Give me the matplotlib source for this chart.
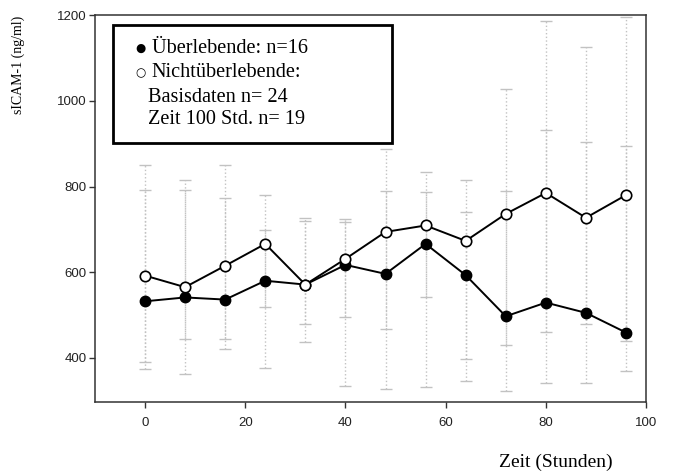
import matplotlib
matplotlib.use('Agg')
import matplotlib.pyplot as plt
from matplotlib.patches import Rectangle
import numpy as np

# Zeitpunkte (Stunden)
zeit = [0, 8, 16, 24, 32, 40, 48, 56, 64, 72, 80, 88, 96]

# Mittelwerte sICAM-1 (ng/ml)
ueberlebende = [532, 541, 536, 580, 571, 617, 596, 666, 593, 497, 529, 505, 459]
nicht_ueberlebende = [592, 565, 615, 666, 571, 631, 694, 709, 673, 736, 785, 727, 780]

# Fehlerbalken-Enden
ueb_oben = [791, 791, 773, 698, 720, 718, 789, 787, 741, 789, 932, 903, 894]
ueb_unten = [374, 362, 420, 377, 436, 334, 327, 333, 347, 323, 342, 342, 370]
nicht_oben = [851, 816, 851, 781, 727, 723, 887, 834, 816, 1027, 1187, 1126, 1195]
nicht_unten = [391, 444, 444, 519, 480, 495, 468, 541, 397, 430, 460, 480, 440]

x = np.array(zeit)
y1 = np.array(ueberlebende)
y2 = np.array(nicht_ueberlebende)

fig = plt.figure(figsize=(6.73, 4.74), dpi=100)
ax = fig.add_axes([0.141, 0.152, 0.819, 0.816])

err_style = dict(fmt='none', ecolor='#c2c2c2', elinewidth=1.0, capsize=4,
                 capthick=1.0, zorder=1)
for y, lo, hi in [(y1, ueb_unten, ueb_oben), (y2, nicht_unten, nicht_oben)]:
    eb = ax.errorbar(x, y, yerr=[y - np.array(lo), np.array(hi) - y], **err_style)
    eb[2][0].set_linestyle(':')

ax.plot(x, y1, color='black', lw=1.4, marker='o', ms=7.5,
        mfc='black', mec='black', zorder=3)
ax.plot(x, y2, color='black', lw=1.4, marker='o', ms=7.5,
        mfc='white', mec='black', mew=1.2, zorder=3)

ax.set_xlim(-10, 100)
ax.set_ylim(297, 1200)
ax.set_xticks([0, 20, 40, 60, 80, 100])
ax.set_yticks([400, 600, 800, 1000, 1200])

for s in ax.spines.values():
    s.set_color('#333333')
    s.set_linewidth(1.1)
ax.tick_params(direction='out', length=4, width=1, color='#333333',
               labelsize=9.5, labelcolor='#222222')
ax.tick_params(axis='x', pad=7)
ax.tick_params(axis='y', pad=2)
for lab in ax.get_xticklabels() + ax.get_yticklabels():
    lab.set_family('Liberation Sans')

# Legende als Textkasten
ax.add_patch(Rectangle((0.033, 0.669), 0.506, 0.305, transform=ax.transAxes,
                       fill=True, facecolor='white', edgecolor='black',
                       lw=2, zorder=4))
fam = ['Liberation Serif', 'DejaVu Serif']
tkw = dict(transform=ax.transAxes, fontsize=14.6, family=fam, va='center',
           ha='left', zorder=5)
ax.text(0.073, 0.913, '\u25cf', fontsize=8.5, family=['DejaVu Sans'],
        transform=ax.transAxes, va='center', ha='left', zorder=5)
ax.text(0.103, 0.915, '\u00dcberlebende: n=16', **tkw)
ax.text(0.073, 0.850, '\u25cb', fontsize=8.5, family=['DejaVu Sans'],
        transform=ax.transAxes, va='center', ha='left', zorder=5)
ax.text(0.103, 0.852, 'Nicht\u00fcberlebende:', **tkw)
ax.text(0.096, 0.788, 'Basisdaten n= 24', **tkw)
ax.text(0.096, 0.730, 'Zeit 100 Std. n= 19', **tkw)

fig.text(0.027, 0.863, 'sICAM-1 (ng/ml)', rotation=90, fontsize=10,
         family='Liberation Serif', ha='center', va='center')
fig.text(0.826, 0.025, 'Zeit (Stunden)', fontsize=14,
         family='Liberation Serif', ha='center', va='center')

fig.savefig('out.png', dpi=100)
